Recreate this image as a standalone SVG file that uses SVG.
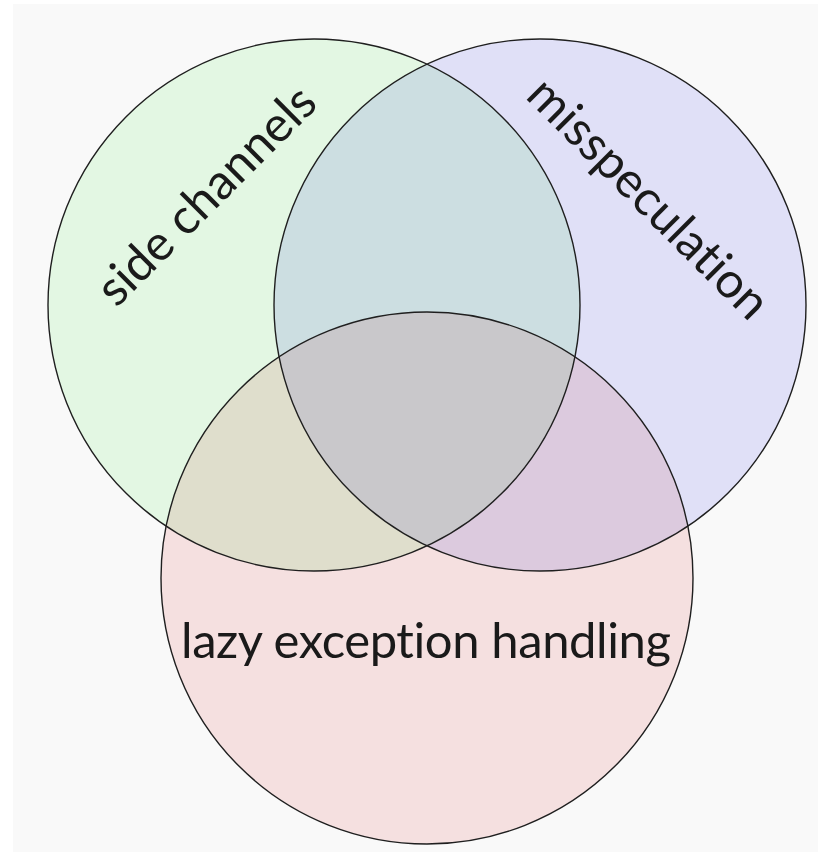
<svg xmlns="http://www.w3.org/2000/svg" width="818" height="852" viewBox="0 0 818 852">
  <style>
    .set { mix-blend-mode: multiply; }
    .ring { fill: none; stroke: #1f1f1f; stroke-width: 1.4; }
    .label { font-family: Lato, "DejaVu Sans", sans-serif; font-size: 49px; fill: #1a1a1a; font-variant-ligatures: none; font-feature-settings: "liga" 0, "dlig" 0; }
  </style>
  <rect width="818" height="852" fill="#ffffff"/>
  <rect x="13" y="4" width="805" height="848" fill="#f9f9f9"/>
  <g id="fills">
    <circle class="set" cx="314" cy="305" r="266" fill="#e9fde9"/>
    <circle class="set" cx="540" cy="305" r="266" fill="#e6e6fd"/>
    <circle class="set" cx="427" cy="578" r="266" fill="#fbe6e6"/>
  </g>
  <g id="side-channels">
    <circle class="ring" cx="314" cy="305" r="266"/>
    <text class="label" text-anchor="middle" transform="translate(218,207) rotate(-45)">side channels</text>
  </g>
  <g id="misspeculation">
    <circle class="ring" cx="540" cy="305" r="266"/>
    <text class="label" text-anchor="middle" transform="translate(637,210) rotate(45)">misspeculation</text>
  </g>
  <g id="lazy-exception-handling">
    <circle class="ring" cx="427" cy="578" r="266"/>
    <text class="label" x="181" y="658" textLength="490">lazy exception handling</text>
  </g>
</svg>
